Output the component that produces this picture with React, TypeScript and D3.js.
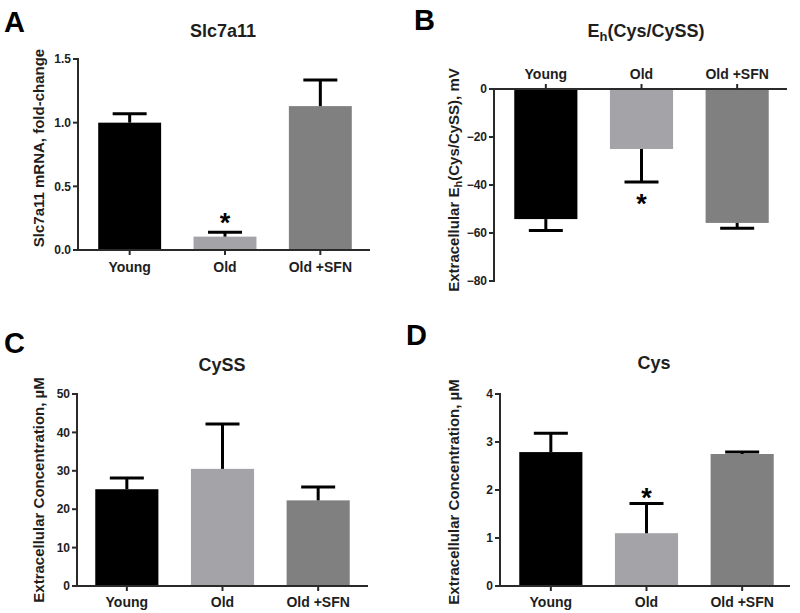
import React from "react";
import * as d3 from "d3";

const groups = ["Young", "Old", "Old +SFN"];
const barColors = ["#000000", "#a4a4a8", "#808080"];

// Panel A: Slc7a11 mRNA fold-change (mean, SEM)
const slcMean = [1.0, 0.105, 1.13];
const slcErr = [0.07, 0.035, 0.205];
const slcTicks = [0, 0.5, 1.0, 1.5];

// Panel B: Eh(Cys/CySS), mV (mean, SEM)
const ehMean = [-54.2, -25.0, -55.8];
const ehErr = [4.8, 13.7, 2.2];
const ehTicks = [0, -20, -40, -60, -80];

// Panel C: CySS, µM
const cyssMean = [25.2, 30.5, 22.3];
const cyssErr = [2.9, 11.7, 3.5];
const cyssTicks = [0, 10, 20, 30, 40, 50];

// Panel D: Cys, µM
const cysMean = [2.79, 1.1, 2.75];
const cysErr = [0.39, 0.62, 0.04];
const cysTicks = [0, 1, 2, 3, 4];

const FONT = "'Liberation Sans', Arial, Helvetica, sans-serif";
const TXT = "#1e1e1e";
const AX = "#2a2a2a";

type PanelProps = {
  letter: string;
  letterPos: [number, number];
  title: React.ReactNode;
  titlePos: [number, number];
  ylabel: React.ReactNode;
  ylabelPos: [number, number];
  axisX: number;
  axisRight: number;
  bandRange: [number, number];
  domain: [number, number];
  yRange: [number, number];
  ticks: number[];
  fmt: (v: number) => string;
  means: number[];
  errs: number[];
  catY: number;
  catAbove?: boolean;
  star?: number;
  starOffset: number;
};

function Panel(p: PanelProps) {
  const x = d3.scaleBand<string>().domain(groups).range(p.bandRange).paddingInner(0.34).paddingOuter(0.17);
  const y = d3.scaleLinear().domain(p.domain).range(p.yRange);
  const y0 = y(0);
  const yTop = y(p.domain[1]);
  const yBot = y(p.domain[0]);
  const capW = 34;
  return (
    <g>
      <text x={p.letterPos[0]} y={p.letterPos[1]} fontSize={29} fontWeight="bold" fill="#000" fontFamily={FONT}>
        {p.letter}
      </text>
      <text x={p.titlePos[0]} y={p.titlePos[1]} fontSize={18} fontWeight="bold" fill={TXT} textAnchor="middle" fontFamily={FONT}>
        {p.title}
      </text>
      <text
        transform={`translate(${p.ylabelPos[0]},${p.ylabelPos[1]}) rotate(-90)`}
        fontSize={15}
        fontWeight="bold"
        fill={TXT}
        textAnchor="middle"
        fontFamily={FONT}
      >
        {p.ylabel}
      </text>
      {/* bars */}
      {groups.map((g, i) => {
        const v = p.means[i];
        const yv = y(v);
        return (
          <rect
            key={g}
            x={x(g)}
            width={x.bandwidth()}
            y={Math.min(yv, y0)}
            height={Math.abs(yv - y0)}
            fill={barColors[i]}
          />
        );
      })}
      {/* error bars */}
      {groups.map((g, i) => {
        const v = p.means[i];
        const e = v >= 0 ? v + p.errs[i] : v - p.errs[i];
        const cx = (x(g) as number) + x.bandwidth() / 2;
        return (
          <g key={g + "e"} stroke="#000" strokeWidth={3}>
            <line x1={cx} x2={cx} y1={y(v)} y2={y(e)} />
            <line x1={cx - capW / 2} x2={cx + capW / 2} y1={y(e)} y2={y(e)} />
          </g>
        );
      })}
      {/* star */}
      {p.star !== undefined && (() => {
        const i = p.star as number;
        const v = p.means[i];
        const e = v >= 0 ? v + p.errs[i] : v - p.errs[i];
        const cx = (x(groups[i]) as number) + x.bandwidth() / 2;
        const cy = y(e) + p.starOffset;
        return (
          <text x={cx} y={cy + 15} fontSize={27} fontWeight="bold" textAnchor="middle" fill="#000" fontFamily={FONT}>
            *
          </text>
        );
      })()}
      {/* y axis */}
      <line x1={p.axisX} x2={p.axisX} y1={yTop - 1} y2={yBot + 1} stroke={AX} strokeWidth={2} />
      {p.ticks.map((t) => (
        <g key={t}>
          <line x1={p.axisX - 5} x2={p.axisX} y1={y(t)} y2={y(t)} stroke={AX} strokeWidth={2} />
          <text
            x={p.axisX - 7}
            y={y(t)}
            dy="0.35em"
            fontSize={12}
            fontWeight="bold"
            textAnchor="end"
            fill={TXT}
            fontFamily={FONT}
          >
            {p.fmt(t)}
          </text>
        </g>
      ))}
      {/* x axis */}
      <line x1={p.axisX - 1} x2={p.axisRight} y1={y0} y2={y0} stroke={AX} strokeWidth={2} />
      {groups.map((g) => {
        const cx = (x(g) as number) + x.bandwidth() / 2;
        return (
          <g key={g + "t"}>
            <line
              x1={cx}
              x2={cx}
              y1={y0}
              y2={p.catAbove ? y0 - 5 : y0 + 5}
              stroke={AX}
              strokeWidth={2}
            />
            <text x={cx} y={p.catY} fontSize={14} fontWeight="bold" textAnchor="middle" fill={TXT} fontFamily={FONT}>
              {g}
            </text>
          </g>
        );
      })}
    </g>
  );
}

export default function App() {
  const f1 = d3.format(".1f");
  const f0 = d3.format("d");
  return (
    <svg width={800} height={613} style={{ position: "absolute", left: 0, top: 0, background: "#fff" }}>
      <rect width={800} height={613} fill="#fff" />
      <Panel
        letter="A"
        letterPos={[4, 32]}
        title="Slc7a11"
        titlePos={[223, 37]}
        ylabel="Slc7a11 mRNA, fold-change"
        ylabelPos={[44, 148]}
        axisX={78}
        axisRight={370}
        bandRange={[82, 368]}
        domain={[0, 1.5]}
        yRange={[250, 59]}
        ticks={slcTicks}
        fmt={f1}
        means={slcMean}
        errs={slcErr}
        catY={272}
        star={1}
        starOffset={-15}
      />
      <Panel
        letter="B"
        letterPos={[414, 30]}
        title={
          <>
            E<tspan fontSize={13} dy={4}>h</tspan>
            <tspan dy={-4}>(Cys/CySS)</tspan>
          </>
        }
        titlePos={[646, 37]}
        ylabel={
          <>
            Extracellular E<tspan fontSize={11} dy={3}>h</tspan>
            <tspan dy={-3}>(Cys/CySS), mV</tspan>
          </>
        }
        ylabelPos={[459, 180]}
        axisX={494}
        axisRight={787}
        bandRange={[498, 785]}
        domain={[-80, 0]}
        yRange={[281, 89]}
        ticks={ehTicks}
        fmt={f0}
        means={ehMean}
        errs={ehErr}
        catY={79}
        catAbove={true}
        star={1}
        starOffset={16}
      />
      <Panel
        letter="C"
        letterPos={[4, 353]}
        title="CySS"
        titlePos={[222, 371]}
        ylabel="Extracellular Concentration, µM"
        ylabelPos={[44, 490]}
        axisX={77}
        axisRight={368}
        bandRange={[79, 366]}
        domain={[0, 50]}
        yRange={[586, 394]}
        ticks={cyssTicks}
        fmt={f0}
        means={cyssMean}
        errs={cyssErr}
        catY={607}
        starOffset={0}
      />
      <Panel
        letter="D"
        letterPos={[406, 345]}
        title="Cys"
        titlePos={[654, 369]}
        ylabel="Extracellular Concentration, µM"
        ylabelPos={[459, 492]}
        axisX={500}
        axisRight={790}
        bandRange={[503, 790]}
        domain={[0, 4]}
        yRange={[586, 394]}
        ticks={cysTicks}
        fmt={f0}
        means={cysMean}
        errs={cysErr}
        catY={607}
        star={1}
        starOffset={-11}
      />
    </svg>
  );
}
